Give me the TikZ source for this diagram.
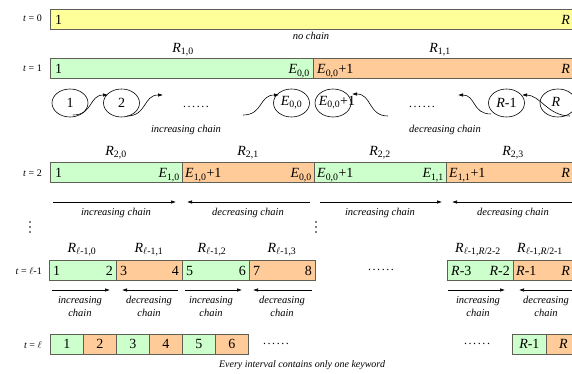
\documentclass[tikz,border=0pt]{standalone}
\usepackage{fontspec}
\setmainfont{Liberation Serif}
\usetikzlibrary{shapes.geometric,arrows.meta}
\definecolor{yel}{RGB}{255,255,153}
\definecolor{grn}{RGB}{204,255,204}
\definecolor{org}{RGB}{255,204,153}
\definecolor{bord}{RGB}{95,95,85}
\newcommand\Ek[1]{\textit{E}\textsubscript{#1}}
\newcommand\Rk[1]{\textit{R}\textsubscript{#1}}
\newcommand\dotsrow{.\kern1.6pt.\kern1.6pt.\kern1.6pt.\kern1.6pt.\kern1.6pt.}
\begin{document}
\begin{tikzpicture}[x=1pt,y=-1pt,
  seg/.style={draw=bord,line width=0.7pt,minimum height=20,inner sep=0pt,anchor=west},
  big/.style={font=\fontsize{14}{14}\selectfont,inner sep=0pt},
  lw/.style={big,anchor=base west},
  le/.style={big,anchor=base east},
  small/.style={font=\fontsize{10.5}{13}\selectfont\itshape,inner sep=0pt,align=center},
  tl/.style={font=\fontsize{10}{10}\selectfont,inner sep=0pt,anchor=base east},
  dots/.style={font=\fontsize{12}{12}\selectfont,inner sep=0pt},
  circ/.style={draw,ellipse,line width=0.6pt,minimum width=36,minimum height=28,inner sep=0pt},
  carr/.style={line width=0.6pt,-{Latex[length=5pt,width=3.5pt]}},
]
\clip (0,0) rectangle (572,374);
\fill[white] (0,0) rectangle (572,374);

% ---------- t = 0
\node[tl] (t0) at (42,22) {\textit{t} = 0};
\node[seg,fill=yel,minimum width=560] (b0) at (50,19) {};
\node[lw] (b0a) at (55,24.5) {1};
\node[le] (b0b) at (570,24.5) {\textit{R}};
\node[small] (nc) at (311,36) {no chain};

% ---------- t = 1
\node[big] (r10) at (183,50) {\Rk{1,0}};
\node[big] (r11) at (440,50) {\Rk{1,1}};
\node[tl] (t1) at (42,72) {\textit{t} = 1};
\node[seg,fill=grn,minimum width=263] (b10) at (50,68.5) {};
\node[seg,fill=org,minimum width=290] (b11) at (313,68.5) {};
\node[lw] at (55,74) {1};
\node[le] at (310,74) {\Ek{0,0}};
\node[lw] at (317,74) {\Ek{0,0}+1};
\node[le] at (570,74) {\textit{R}};

% circles
\node[circ] (c1) at (70,103) {};
\node[big] at (c1.center) {1};
\node[circ] (c2) at (121.5,103) {};
\node[big] at (c2.center) {2};
\node[circ] (cE) at (291.5,103) {};
\node[big] at (cE.center) {\Ek{0,0}};
\node[circ] (cE1) at (333,103) {};
\node[big] at (337,103) {\Ek{0,0}+1};
\node[circ] (cR1) at (506.5,103) {};
\node[big] at (cR1.center) {\textit{R}-1};
\node[circ] (cR) at (558,103) {};
\node[big] at (556,102) {\textit{R}};

\coordinate (a1s) at (73,115);  \coordinate (a1e) at (108,95);
\coordinate (a2s) at (127,116); \coordinate (a2e) at (163,95);
\coordinate (a3s) at (243,115); \coordinate (a3e) at (279,95);
\draw[carr] (a1s) .. controls (93,115) and (89,95) .. (a1e);
\draw[carr] (a2s) .. controls (147,116) and (143,95) .. (a2e);
\draw[carr] (a3s) .. controls (263,115) and (259,95) .. (a3e);
\coordinate (d1s) at (388,116); \coordinate (d1e) at (352,94);
\coordinate (d2s) at (491,114); \coordinate (d2e) at (458,95);
\coordinate (d3s) at (570,116); \coordinate (d3e) at (522,95);
\draw[carr] (d1s) .. controls (368,116) and (372,94) .. (d1e);
\draw[carr] (d2s) .. controls (472,114) and (476,95) .. (d2e);
\draw[carr] (d3s) .. controls (548,116) and (540,95) .. (d3e);
\node[dots] (dd1) at (196,107) {\dotsrow};
\node[dots] (dd2) at (422,107) {\dotsrow};
\node[small] (ic1) at (186,130) {increasing chain};
\node[small] (dc1) at (445,130) {decreasing chain};

% ---------- t = 2
\node[big] (r20) at (116,153) {\Rk{2,0}};
\node[big] (r21) at (248,153) {\Rk{2,1}};
\node[big] (r22) at (380,153) {\Rk{2,2}};
\node[big] (r23) at (513,153) {\Rk{2,3}};
\node[tl] (t2) at (42,176) {\textit{t} = 2};
\node[seg,fill=grn,minimum width=132] (b20) at (50,172.5) {};
\node[seg,fill=org,minimum width=132] (b21) at (182,172.5) {};
\node[seg,fill=grn,minimum width=132] (b22) at (314,172.5) {};
\node[seg,fill=org,minimum width=150] (b23) at (446,172.5) {};
\node[lw] at (55,178) {1};
\node[le] at (180,178) {\Ek{1,0}};
\node[lw] at (185,178) {\Ek{1,0}+1};
\node[le] at (312,178) {\Ek{0,0}};
\node[lw] at (317,178) {\Ek{0,0}+1};
\node[le] at (444,178) {\Ek{1,1}};
\node[lw] at (449,178) {\Ek{1,1}+1};
\node[le] at (570,178) {\textit{R}};
\coordinate (p1s) at (53,202);  \coordinate (p1e) at (176,202);
\coordinate (p2s) at (310,202); \coordinate (p2e) at (187,202);
\coordinate (p3s) at (320,202); \coordinate (p3e) at (442,202);
\coordinate (p4s) at (590,202); \coordinate (p4e) at (452,202);
\draw[carr] (p1s) -- (p1e);
\draw[carr] (p2s) -- (p2e);
\draw[carr] (p3s) -- (p3e);
\draw[carr] (p4s) -- (p4e);
\node[small] at (116,213) {increasing chain};
\node[small] at (248,213) {decreasing chain};
\node[small] at (380,213) {increasing chain};
\node[small] at (513,213) {decreasing chain};

% vertical dots
\foreach \yy in {222,227,232} {
  \fill (30,\yy) circle (0.9);
  \fill (316,\yy) circle (0.9);
}

% ---------- t = l-1
\node[big] at (82,250) {\Rk{$\ell$-1,0}};
\node[big] at (149,250) {\Rk{$\ell$-1,1}};
\node[big] at (212,250) {\Rk{$\ell$-1,2}};
\node[big] at (282,250) {\Rk{$\ell$-1,3}};
\node[big] at (478,250) {\Rk{$\ell$-1,\textit{R}/2-2}};
\node[big,anchor=west] at (517,250) {\Rk{$\ell$-1,\textit{R}/2-1}};
\node[tl] (t3) at (42,274) {\textit{t} = $\ell$-1};
\node[seg,fill=grn,minimum width=67] (e0) at (49,270) {};
\node[seg,fill=org,minimum width=66] (e1) at (116,270) {};
\node[seg,fill=grn,minimum width=67] (e2) at (182,270) {};
\node[seg,fill=org,minimum width=66] (e3) at (249,270) {};
\node[seg,fill=grn,minimum width=66] (e4) at (447,270) {};
\node[seg,fill=org,minimum width=90] (e5) at (513,270) {};
\node[lw] at (53,275.5) {1};  \node[le] at (113,275.5) {2};
\node[lw] at (120,275.5) {3}; \node[le] at (179,275.5) {4};
\node[lw] at (186,275.5) {5}; \node[le] at (246,275.5) {6};
\node[lw] at (253,275.5) {7}; \node[le] at (312,275.5) {8};
\node[lw] at (451,275.5) {\textit{R}-3}; \node[le] at (510,275.5) {\textit{R}-2};
\node[lw] at (516,275.5) {\textit{R}-1}; \node[le] at (570,275.5) {\textit{R}};
\node[dots] at (381,270) {\dotsrow};
\coordinate (q1s) at (52,290);  \coordinate (q1e) at (110,290);
\coordinate (q2s) at (178,290); \coordinate (q2e) at (122,290);
\coordinate (q3s) at (185,290); \coordinate (q3e) at (242,290);
\coordinate (q4s) at (312,290); \coordinate (q4e) at (253,290);
\coordinate (q5s) at (448,290); \coordinate (q5e) at (505,290);
\coordinate (q6s) at (580,290); \coordinate (q6e) at (519,290);
\draw[carr] (q1s) -- (q1e);
\draw[carr] (q2s) -- (q2e);
\draw[carr] (q3s) -- (q3e);
\draw[carr] (q4s) -- (q4e);
\draw[carr] (q5s) -- (q5e);
\draw[carr] (q6s) -- (q6e);
\node[small] at (80,306.5) {increasing\\chain};
\node[small] at (149,306.5) {decreasing\\chain};
\node[small] at (211,306.5) {increasing\\chain};
\node[small] at (282,306.5) {decreasing\\chain};
\node[small] at (478,306.5) {increasing\\chain};
\node[small] at (546,306.5) {decreasing\\chain};

% ---------- t = l
\node[tl] (t4) at (42,348) {\textit{t} = $\ell$};
\begin{scope}[every node/.append style={big,minimum height=18,minimum width=33}]
\node[seg,fill=grn] (z1) at (50,344) {1};
\node[seg,fill=org] (z2) at (83,344) {2};
\node[seg,fill=grn] (z3) at (116,344) {3};
\node[seg,fill=org] (z4) at (149,344) {4};
\node[seg,fill=grn] (z5) at (182,344) {5};
\node[seg,fill=org] (z6) at (215,344) {6};
\node[seg,fill=grn,minimum width=34] (z7) at (512,344) {\textit{R}-1};
\node[seg,fill=org,minimum width=34] (z8) at (546,344) {\textit{R}};
\end{scope}
\node[dots] at (276,344) {\dotsrow};
\node[dots] at (477,344) {\dotsrow};
\node[small,font=\fontsize{10}{12}\selectfont\itshape] (ev) at (302,365) {Every interval contains only one keyword};
\end{tikzpicture}
\end{document}
